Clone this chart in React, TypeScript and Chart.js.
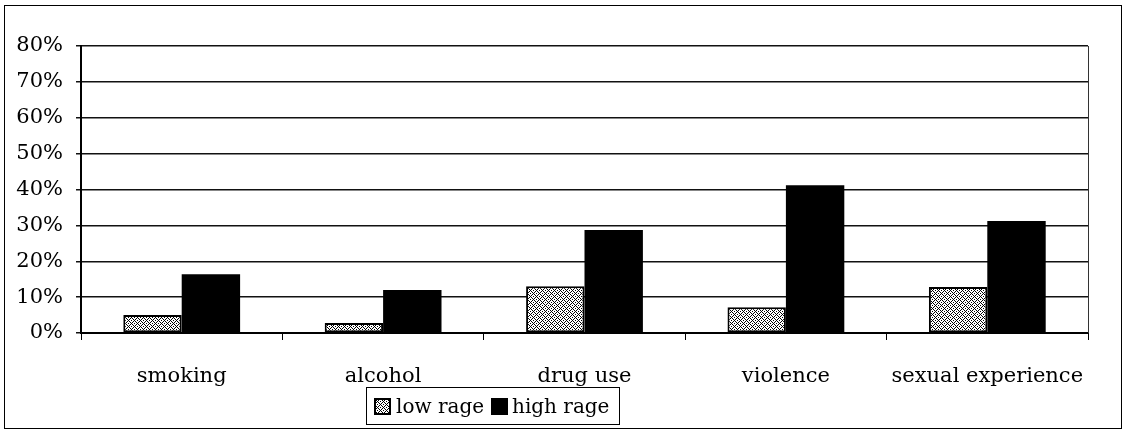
import React, { useEffect, useRef } from "react";
import { Chart, registerables } from "chart.js";

Chart.register(...registerables);

const categories = ["smoking", "alcohol", "drug use", "violence", "sexual experience"];
const lowRage = [5, 2.8, 13, 7.2, 12.8];
const highRage = [16.4, 12, 28.7, 41.2, 31.2];
const seriesNames = ["low rage", "high rage"];
const yTickLabels = ["0%", "10%", "20%", "30%", "40%", "50%", "60%", "70%", "80%"];

const FONT = "'DejaVu Serif', serif";

function makePattern(): CanvasPattern | string {
  const c = document.createElement("canvas");
  c.width = 6;
  c.height = 6;
  const g = c.getContext("2d");
  if (!g) return "#888";
  g.fillStyle = "#ffffff";
  g.fillRect(0, 0, 6, 6);
  g.fillStyle = "#000000";
  const dots = [
    [0, 0], [3, 1], [5, 2], [1, 3], [4, 4], [2, 5], [0, 4], [3, 3], [5, 5], [1, 1], [4, 0], [2, 2],
  ];
  dots.forEach(([x, y]) => g.fillRect(x, y, 1, 1));
  const p = g.createPattern(c, "repeat");
  return p || "#888";
}

export default function App() {
  const ref = useRef<HTMLCanvasElement | null>(null);

  useEffect(() => {
    document.body.style.margin = "0";
    const canvas = ref.current;
    if (!canvas) return;
    const pattern = makePattern();

    const framePlugin = {
      id: "framePlugin",
      afterDraw(chart: any) {
        const ctx = chart.ctx as CanvasRenderingContext2D;
        const area = chart.chartArea;
        ctx.save();
        ctx.strokeStyle = "#000";
        ctx.lineWidth = 1;
        ctx.strokeRect(4.5, 5.5, 1117, 423);
        ctx.strokeStyle = "#333";
        ctx.beginPath();
        ctx.moveTo(Math.round(area.right) + 0.5, area.top);
        ctx.lineTo(Math.round(area.right) + 0.5, area.bottom);
        ctx.stroke();
        const lx = 366, ly = 387, lw = 253, lh = 37;
        ctx.fillStyle = "#fff";
        ctx.fillRect(lx, ly, lw, lh);
        ctx.strokeStyle = "#000";
        ctx.lineWidth = 1;
        ctx.strokeRect(lx + 0.5, ly + 0.5, lw, lh);
        const markers = [
          { x: 374, text: 396, fill: pattern as any, label: seriesNames[0] },
          { x: 491, text: 512, fill: "#000", label: seriesNames[1] },
        ];
        ctx.font = `20px ${FONT}`;
        ctx.textBaseline = "alphabetic";
        markers.forEach((m) => {
          ctx.fillStyle = m.fill;
          ctx.fillRect(m.x, 398, 17, 17);
          ctx.strokeStyle = "#000";
          ctx.lineWidth = 2;
          ctx.strokeRect(m.x + 1, 399, 15, 15);
          ctx.fillStyle = "#000";
          ctx.fillText(m.label, m.text, 413);
        });
        ctx.restore();
      },
    };

    const chart = new Chart(canvas, {
      type: "bar",
      data: {
        labels: categories,
        datasets: [
          {
            label: seriesNames[0],
            data: lowRage,
            backgroundColor: pattern as any,
            borderColor: "#000",
            borderWidth: 2,
            borderSkipped: false,
          },
          {
            label: seriesNames[1],
            data: highRage,
            backgroundColor: "#000",
            borderColor: "#000",
            borderWidth: 0,
          },
        ],
      },
      options: {
        responsive: false,
        animation: false,
        devicePixelRatio: 1,
        layout: { padding: { top: 46, right: 36, left: 0, bottom: 0 } },
        datasets: { bar: { categoryPercentage: 0.58, barPercentage: 1 } },
        plugins: {
          legend: { display: false },
          tooltip: { enabled: false },
          title: { display: false },
        },
        scales: {
          x: {
            afterFit: (s: any) => {
              s.height = 98;
            },
            grid: {
              display: true,
              drawOnChartArea: false,
              drawTicks: true,
              tickLength: 7,
              color: "#000",
              lineWidth: 1,
              offset: true,
            },
            border: { display: true, color: "#000", width: 2 },
            ticks: {
              color: "#000",
              font: { family: FONT, size: 21 },
              padding: 24,
              maxRotation: 0,
              autoSkip: false,
            },
          },
          y: {
            min: 0,
            max: 80,
            afterFit: (s: any) => {
              s.width = 81;
            },
            grid: {
              color: "#111",
              lineWidth: 1.5,
              drawTicks: true,
              tickLength: 5,
            },
            border: { display: true, color: "#000", width: 2 },
            ticks: {
              stepSize: 10,
              color: "#000",
              font: { family: FONT, size: 21 },
              padding: 13,
              callback: (_v: any, i: number) => yTickLabels[i],
            },
          },
        },
      },
      plugins: [framePlugin],
    });
    return () => chart.destroy();
  }, []);

  return (
    <div style={{ width: 1124, height: 431, background: "#fff" }}>
      <canvas ref={ref} width={1124} height={431} style={{ display: "block" }} />
    </div>
  );
}
